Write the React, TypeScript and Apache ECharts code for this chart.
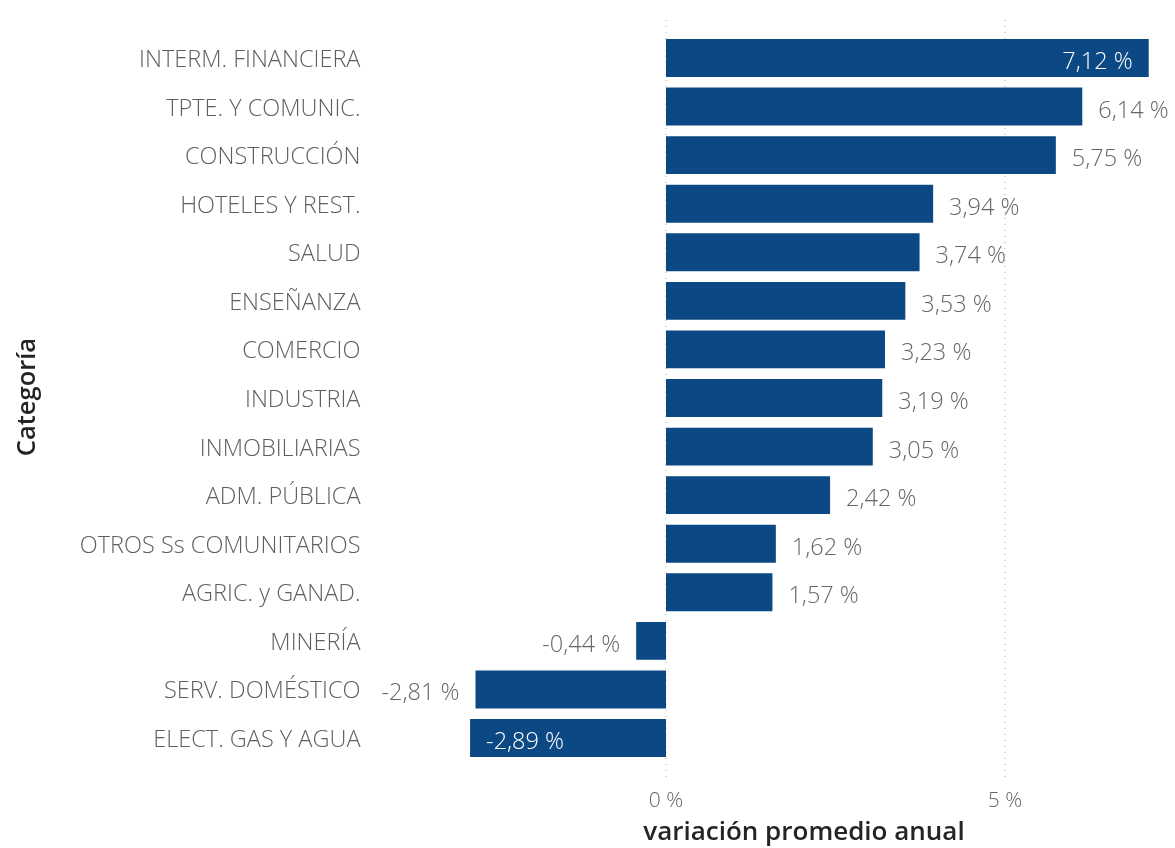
import React, { useEffect, useRef } from "react";
import * as echarts from "echarts";

const categories = [
  "INTERM. FINANCIERA",
  "TPTE. Y COMUNIC.",
  "CONSTRUCCIÓN",
  "HOTELES Y REST.",
  "SALUD",
  "ENSEÑANZA",
  "COMERCIO",
  "INDUSTRIA",
  "INMOBILIARIAS",
  "ADM. PÚBLICA",
  "OTROS Ss COMUNITARIOS",
  "AGRIC. y GANAD.",
  "MINERÍA",
  "SERV. DOMÉSTICO",
  "ELECT. GAS Y AGUA",
];
const values = [7.12, 6.14, 5.75, 3.94, 3.74, 3.53, 3.23, 3.19, 3.05, 2.42, 1.62, 1.57, -0.44, -2.81, -2.89];
// label placement as in the original: inside for the two longest, outside otherwise
const insideLabel = [true, false, false, false, false, false, false, false, false, false, false, false, false, false, true];
const xTicks = [0, 5];
const xTitle = "variación promedio anual";
const yTitle = "Categoría";

const X_MIN = -3.4;
const X_MAX = 7.4;
const GRID_LEFT = 435.5;
const GRID_WIDTH = 732.2;
const BAR_COLOR = "#0B4884";
const FONT = "'Open Sans', 'Noto Sans', sans-serif";

const fmt = (v: number) => v.toFixed(2).replace(".", ",") + " %";

export default function App() {
  const ref = useRef<HTMLDivElement>(null);
  useEffect(() => {
    if (!ref.current) return;
    const chart = echarts.init(ref.current, undefined, { renderer: "svg" });
    const data = values.map((v, i) => {
      const inside = insideLabel[i];
      const pos = v >= 0 ? (inside ? "insideRight" : "right") : inside ? "insideLeft" : "left";
      return {
        value: v,
        label: {
          position: pos,
          color: inside ? "#ffffff" : "#666666",
          distance: 16,
        },
      };
    });
    chart.setOption({
      animation: false,
      textStyle: { fontFamily: FONT },
      grid: [
        { left: GRID_LEFT, width: GRID_WIDTH, top: 33.7, height: 728.6 },
        { left: GRID_LEFT, width: GRID_WIDTH, top: 20, height: 760 },
      ],
      xAxis: [
        {
          type: "value",
          gridIndex: 0,
          min: X_MIN,
          max: X_MAX,
          axisLine: { show: false },
          axisTick: { show: false },
          axisLabel: { show: false },
          splitLine: { show: false },
        },
        {
          type: "value",
          gridIndex: 1,
          min: X_MIN,
          max: X_MAX,
          axisLine: { show: false },
          axisTick: { show: false, customValues: xTicks },
          axisLabel: {
            customValues: xTicks,
            formatter: (v: number) => v + " %",
            color: "#666666",
            fontSize: 21,
            fontWeight: 350,
            fontFamily: FONT,
            margin: 8,
          },
          splitLine: {
            show: true,
            lineStyle: { color: "#c8c8c8", type: [1, 5], width: 1.5 },
          },
        },
      ],
      yAxis: [
        {
          type: "category",
          gridIndex: 0,
          data: categories,
          inverse: true,
          axisLine: { show: false },
          axisTick: { show: false },
          axisLabel: {
            color: "#5f5f5f",
            fontSize: 23.5,
            fontWeight: 350,
            fontFamily: FONT,
            margin: 75,
          },
        },
        { type: "value", gridIndex: 1, show: false, min: 0, max: 1 },
      ],
      series: [
        {
          type: "bar",
          xAxisIndex: 0,
          yAxisIndex: 0,
          data,
          barCategoryGap: "22%",
          itemStyle: { color: BAR_COLOR },
          label: {
            show: true,
            fontSize: 23.5,
            fontWeight: 350,
            fontFamily: FONT,
            offset: [0, 2],
            formatter: (p: any) => fmt(p.value),
          },
        },
      ],
      graphic: [
        {
          type: "text",
          x: 25,
          y: 397,
          rotation: Math.PI / 2,
          style: {
            text: yTitle,
            fill: "#252423",
            font: "600 25.5px 'Open Sans', 'Noto Sans', sans-serif",
            align: "center",
            verticalAlign: "middle",
          },
        },
        {
          type: "text",
          x: 804,
          y: 830,
          style: {
            text: xTitle,
            fill: "#252423",
            font: "600 26px 'Open Sans', 'Noto Sans', sans-serif",
            align: "center",
            verticalAlign: "middle",
          },
        },
      ],
    });
    return () => chart.dispose();
  }, []);
  return (
    <div
      ref={ref}
      style={{ position: "fixed", left: 0, top: 0, width: 1175, height: 848 }}
    />
  );
}
